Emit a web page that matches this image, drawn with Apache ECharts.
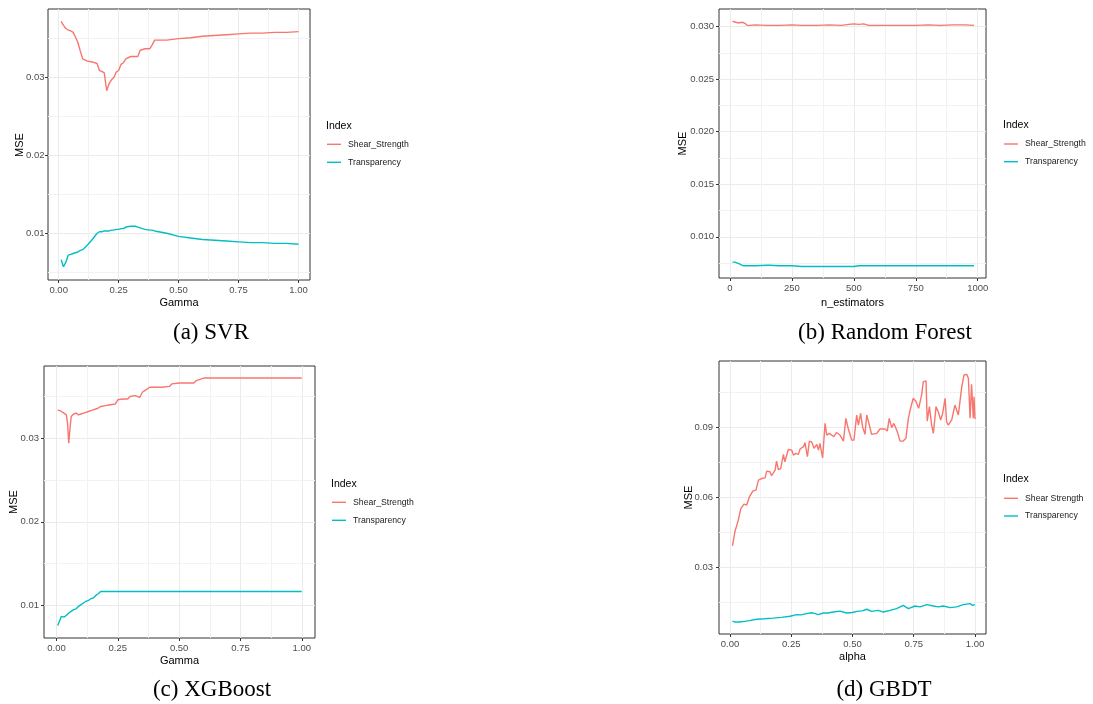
<!DOCTYPE html>
<html>
<head>
<meta charset="utf-8">
<script src="https://cdn.jsdelivr.net/npm/echarts@6/dist/echarts.min.js"></script>
<style>
html,body{margin:0;padding:0;background:#fff;}
#chart{width:1093px;height:704px;}
</style>
</head>
<body>
<div id="chart"></div>
<script>
// ---------- data ----------
const seriesNames = ['Shear_Strength', 'Transparency'];
const seriesNamesD = ['Shear Strength', 'Transparency'];
const captions = ['(a) SVR', '(b) Random Forest', '(c) XGBoost', '(d) GBDT'];
const xTitles = ['Gamma', 'n_estimators', 'Gamma', 'alpha'];
const yTitle = 'MSE';

// (a) SVR
const gammaA = [0.01,0.02,0.03,0.04,0.05,0.06,0.07,0.08,0.09,0.10,0.12,0.14,0.16,0.17,0.18,0.19,0.20,0.21,0.22,0.23,0.24,0.25,0.26,0.27,0.28,0.30,0.32,0.33,0.34,0.36,0.38,0.39,0.40,0.45,0.50,0.55,0.60,0.65,0.70,0.75,0.80,0.85,0.90,0.95,1.00];
const svrShear = [0.0372,0.0367,0.0363,0.0361,0.0360,0.0358,0.0352,0.0345,0.0334,0.0324,0.0321,0.0320,0.0318,0.0309,0.0308,0.0306,0.0283,0.0292,0.0297,0.0300,0.0307,0.0309,0.0317,0.0319,0.0324,0.0327,0.0327,0.0327,0.0335,0.0337,0.0337,0.0342,0.0348,0.0348,0.0350,0.0351,0.0353,0.0354,0.0355,0.0356,0.0357,0.0357,0.0358,0.0358,0.0359];
const svrTrans = [0.0066,0.0057,0.0063,0.0072,0.0073,0.0074,0.0075,0.0076,0.0078,0.0079,0.0085,0.0092,0.0100,0.0102,0.0102,0.0103,0.0103,0.0103,0.0104,0.0104,0.0105,0.0105,0.0106,0.0106,0.0108,0.0109,0.0109,0.0108,0.0107,0.0105,0.0104,0.0104,0.0103,0.0100,0.0096,0.0094,0.0092,0.0091,0.0090,0.0089,0.0088,0.0088,0.0087,0.0087,0.0086];

// (b) Random Forest
const nEst = [10,20,30,40,50,60,70,80,100,150,160,200,250,290,300,350,400,450,480,500,520,540,560,600,650,700,750,800,850,900,950,985];
const rfShear = [0.03048,0.03042,0.03035,0.03035,0.0304,0.0303,0.0301,0.0301,0.03015,0.0301,0.0301,0.0301,0.03015,0.0301,0.0301,0.0301,0.03015,0.0301,0.0302,0.03025,0.0302,0.03025,0.0301,0.0301,0.0301,0.0301,0.0301,0.03015,0.0301,0.03015,0.03015,0.0301];
const rfTrans = [0.0076,0.0076,0.0075,0.0074,0.00728,0.00725,0.00725,0.00725,0.00725,0.0073,0.0073,0.00725,0.00725,0.00718,0.00718,0.00718,0.00718,0.00718,0.00718,0.00718,0.00725,0.00725,0.00725,0.00725,0.00725,0.00725,0.00725,0.00725,0.00725,0.00725,0.00725,0.00725];

// (c) XGBoost
const gammaC = [0.005,0.01,0.02,0.03,0.04,0.045,0.05,0.055,0.06,0.07,0.08,0.09,0.10,0.11,0.12,0.13,0.14,0.15,0.16,0.17,0.18,0.20,0.22,0.24,0.25,0.27,0.29,0.30,0.32,0.34,0.35,0.36,0.38,0.40,0.43,0.46,0.47,0.50,0.53,0.56,0.57,0.60,0.65,0.70,0.80,0.90,1.00];
const xgbShear = [0.0334,0.0333,0.0332,0.0330,0.0328,0.0318,0.0294,0.0312,0.0326,0.0329,0.0330,0.0328,0.0329,0.0330,0.0331,0.0332,0.0333,0.0334,0.0335,0.0336,0.0338,0.0339,0.0340,0.0341,0.0346,0.0347,0.0347,0.0350,0.0351,0.0349,0.0355,0.0357,0.0361,0.0361,0.0361,0.0362,0.0365,0.0366,0.0366,0.0366,0.0369,0.0372,0.0372,0.0372,0.0372,0.0372,0.0372];
const xgbTrans = [0.0076,0.0077,0.0087,0.0086,0.0088,0.0089,0.0091,0.0092,0.0093,0.0095,0.0096,0.0099,0.0101,0.0103,0.0105,0.0106,0.0108,0.0109,0.0112,0.0114,0.01167,0.01167,0.01167,0.01167,0.01167,0.01167,0.01167,0.01167,0.01167,0.01167,0.01167,0.01167,0.01167,0.01167,0.01167,0.01167,0.01167,0.01167,0.01167,0.01167,0.01167,0.01167,0.01167,0.01167,0.01167,0.01167,0.01167];

// (d) GBDT
const alphaShear = [0.01,0.02,0.034,0.044,0.057,0.068,0.079,0.093,0.106,0.116,0.129,0.143,0.15,0.163,0.17,0.184,0.19,0.197,0.207,0.218,0.224,0.231,0.238,0.252,0.259,0.269,0.279,0.286,0.30,0.306,0.316,0.324,0.333,0.343,0.354,0.361,0.367,0.378,0.388,0.395,0.405,0.415,0.424,0.435,0.449,0.463,0.473,0.483,0.497,0.506,0.517,0.524,0.533,0.541,0.551,0.558,0.567,0.578,0.599,0.612,0.633,0.642,0.65,0.66,0.669,0.683,0.694,0.707,0.718,0.728,0.737,0.748,0.759,0.77,0.782,0.789,0.80,0.805,0.814,0.823,0.83,0.841,0.85,0.86,0.868,0.878,0.884,0.891,0.905,0.918,0.932,0.946,0.955,0.966,0.973,0.98,0.986,0.993,0.996,1.0];
const gbdtShear = [0.0390,0.0451,0.0501,0.0551,0.0570,0.0566,0.0601,0.0626,0.0630,0.0673,0.0680,0.0683,0.0712,0.0709,0.0692,0.0716,0.0755,0.0719,0.0723,0.0784,0.0752,0.0745,0.0805,0.0802,0.0781,0.0788,0.0784,0.0807,0.0817,0.0835,0.0774,0.0841,0.0838,0.0810,0.0827,0.0802,0.0831,0.0769,0.0917,0.0867,0.0874,0.0867,0.0860,0.0878,0.0867,0.0841,0.0939,0.0893,0.0845,0.0845,0.0953,0.0910,0.0960,0.0903,0.0870,0.0953,0.0917,0.0870,0.0874,0.0893,0.0893,0.0884,0.0939,0.0899,0.0917,0.0881,0.0841,0.0841,0.0853,0.0939,0.0982,0.1025,0.1011,0.0982,0.1039,0.1097,0.1100,0.0927,0.0989,0.0910,0.0874,0.0989,0.0967,0.0932,0.0960,0.1025,0.0924,0.0910,0.0932,0.0996,0.0953,0.1075,0.1125,0.1128,0.1111,0.0939,0.1085,0.0939,0.1032,0.0936];
const alphaTrans = [0.01,0.02,0.04,0.06,0.08,0.109,0.14,0.177,0.21,0.245,0.272,0.29,0.313,0.333,0.345,0.36,0.381,0.40,0.422,0.449,0.476,0.50,0.517,0.54,0.558,0.578,0.605,0.626,0.653,0.68,0.707,0.728,0.755,0.776,0.803,0.83,0.85,0.871,0.898,0.925,0.952,0.98,0.99,1.0];
const gbdtTrans = [0.0067,0.0063,0.0063,0.0066,0.0069,0.0075,0.0077,0.0080,0.0083,0.0088,0.0095,0.0094,0.0099,0.0103,0.0100,0.0095,0.0102,0.0102,0.0106,0.0110,0.0102,0.0104,0.0109,0.0111,0.0118,0.0109,0.0113,0.0106,0.0113,0.0121,0.0135,0.0121,0.0132,0.0128,0.0138,0.0132,0.0128,0.0132,0.0125,0.0128,0.0138,0.0142,0.0135,0.0138];

// tick values
const xTicksUnit = [0, 0.25, 0.5, 0.75, 1];
const xMinorUnit = [0.125, 0.375, 0.625, 0.875];
const xTicksN = [0, 250, 500, 750, 1000];
const xMinorN = [125, 375, 625, 875];
const yTicksA = [0.01, 0.02, 0.03];
const yMinorA = [0.005, 0.015, 0.025, 0.035];
const yTicksB = [0.010, 0.015, 0.020, 0.025, 0.030];
const yMinorB = [0.0075, 0.0125, 0.0175, 0.0225, 0.0275];
const yTicksD = [0.03, 0.06, 0.09];
const yMinorD = [0.015, 0.045, 0.075, 0.105];

// ---------- layout ----------
const SHEAR = '#F8766D', TRANS = '#00BFC4';
const SANS = 'Arial, "Liberation Sans", sans-serif';
const SERIF = '"Times New Roman", "Liberation Serif", serif';

const panels = [
  { grid:{left:48, top:9, width:262, height:271}, xMin:-0.0446, xMax:1.048, yMin:0.0040, yMax:0.0388,
    xMaj:xTicksUnit, xMin2:xMinorUnit, yMaj:yTicksA, yMin2:yMinorA, xDec:2, yDec:2, yMargin:3.5, xGap:17,
    yT:{x:20, y:145},
    s:[[gammaA, svrShear],[gammaA, svrTrans]], names:seriesNames,
    legend:{x:326, ty:126, y1:144.3, y2:162.3}, cap:{x:211, y:333} },
  { grid:{left:719, top:9, width:267, height:269}, xMin:-44.4, xMax:1033.5, yMin:0.00609, yMax:0.03166,
    xMaj:xTicksN, xMin2:xMinorN, yMaj:yTicksB, yMin2:yMinorB, xDec:0, yDec:3, yMargin:5, xGap:19,
    yT:{x:683, y:143.5},
    s:[[nEst, rfShear],[nEst, rfTrans]], names:seriesNames,
    legend:{x:1003, ty:125, y1:144, y2:161.7}, cap:{x:885, y:333} },
  { grid:{left:44, top:366, width:271, height:272}, xMin:-0.051, xMax:1.054, yMin:0.00611, yMax:0.03864,
    xMaj:xTicksUnit, xMin2:xMinorUnit, yMaj:yTicksA, yMin2:yMinorA, xDec:2, yDec:2, yMargin:5, xGap:17.5,
    yT:{x:13.5, y:502},
    s:[[gammaC, xgbShear],[gammaC, xgbTrans]], names:seriesNames,
    legend:{x:331, ty:484, y1:502.3, y2:520.3}, cap:{x:212, y:690} },
  { grid:{left:719, top:361, width:267, height:273}, xMin:-0.0449, xMax:1.0449, yMin:0.00116, yMax:0.11854,
    xMaj:xTicksUnit, xMin2:xMinorUnit, yMaj:yTicksD, yMin2:yMinorD, xDec:2, yDec:2, yMargin:6, xGap:17.5,
    yT:{x:689, y:497.5},
    s:[[alphaShear, gbdtShear],[alphaTrans, gbdtTrans]], names:seriesNamesD,
    legend:{x:1003, ty:479.3, y1:498.3, y2:516}, cap:{x:884, y:690} }
];

const grids = [], xAxes = [], yAxes = [], series = [], graphics = [];
panels.forEach((p, i) => {
  grids.push(Object.assign({show:true, borderColor:'#333333', borderWidth:1, backgroundColor:'#fff', containLabel:false}, p.grid));
  const lbl = { color:'#4D4D4D', fontSize:9.5, fontFamily:SANS };
  // main x axis
  xAxes.push({
    type:'value', gridIndex:i, min:p.xMin, max:p.xMax, position:'bottom',
    axisLine:{show:false, onZero:false},
    axisTick:{show:true, customValues:p.xMaj, length:3, lineStyle:{color:'#333333', width:1}},
    axisLabel:Object.assign({customValues:p.xMaj, margin:5, formatter:v => v.toFixed(p.xDec)}, lbl),
    splitLine:{show:true, lineStyle:{color:'#EBEBEB', width:1}},
    name:xTitles[i], nameLocation:'middle', nameGap:p.xGap, nameMoveOverlap:false,
    nameTextStyle:{color:'#000', fontSize:11, fontFamily:SANS}
  });
  // minor x grid
  xAxes.push({
    type:'value', gridIndex:i, min:p.xMin, max:p.xMax, position:'top',
    axisLine:{show:false, onZero:false}, axisLabel:{show:false},
    axisTick:{show:false, customValues:p.xMin2},
    splitLine:{show:true, lineStyle:{color:'#F2F2F2', width:1}}
  });
  yAxes.push({
    type:'value', gridIndex:i, min:p.yMin, max:p.yMax, position:'left',
    axisLine:{show:false, onZero:false},
    axisTick:{show:true, customValues:p.yMaj, length:3, lineStyle:{color:'#333333', width:1}},
    axisLabel:Object.assign({customValues:p.yMaj, margin:p.yMargin, formatter:v => v.toFixed(p.yDec)}, lbl),
    splitLine:{show:true, lineStyle:{color:'#EBEBEB', width:1}}
  });
  yAxes.push({
    type:'value', gridIndex:i, min:p.yMin, max:p.yMax, position:'right',
    axisLine:{show:false, onZero:false}, axisLabel:{show:false},
    axisTick:{show:false, customValues:p.yMin2},
    splitLine:{show:true, lineStyle:{color:'#F2F2F2', width:1}}
  });
  [SHEAR, TRANS].forEach((c, k) => {
    const xs = p.s[k][0], ys = p.s[k][1];
    series.push({
      type:'line', name:p.names[k], xAxisIndex:2*i, yAxisIndex:2*i,
      data:xs.map((x, j) => [x, ys[j]]), showSymbol:false, symbol:'none',
      lineStyle:{color:c, width:1.4}, itemStyle:{color:c}, z:5, animation:false
    });
  });
  // y axis title (rotated)
  graphics.push({type:'text', x:p.yT.x, y:p.yT.y, rotation:Math.PI / 2,
    style:{text:yTitle, font:'11px ' + SANS, fill:'#000', align:'center', verticalAlign:'middle'}});
  // legend
  const L = p.legend;
  graphics.push({type:'text', x:L.x, y:L.ty, style:{text:'Index', font:'10.5px ' + SANS, fill:'#000', align:'left', verticalAlign:'middle'}});
  [[SHEAR, L.y1, p.names[0]], [TRANS, L.y2, p.names[1]]].forEach(([c, y, t]) => {
    graphics.push({type:'line', shape:{x1:L.x + 1, y1:y, x2:L.x + 15, y2:y}, style:{stroke:c, lineWidth:1.4}});
    graphics.push({type:'text', x:L.x + 22, y:y, style:{text:t, font:'8.7px ' + SANS, fill:'#1A1A1A', align:'left', verticalAlign:'middle'}});
  });
  graphics.push({type:'text', x:p.cap.x, y:p.cap.y, style:{text:captions[i], font:'23px ' + SERIF, fill:'#000', align:'center', verticalAlign:'middle'}});
});

const chart = echarts.init(document.getElementById('chart'), null, {renderer:'canvas'});
chart.setOption({
  animation:false,
  backgroundColor:'#fff',
  textStyle:{fontFamily:SANS},
  grid:grids, xAxis:xAxes, yAxis:yAxes, series:series, graphic:graphics
});
</script>
</body>
</html>
